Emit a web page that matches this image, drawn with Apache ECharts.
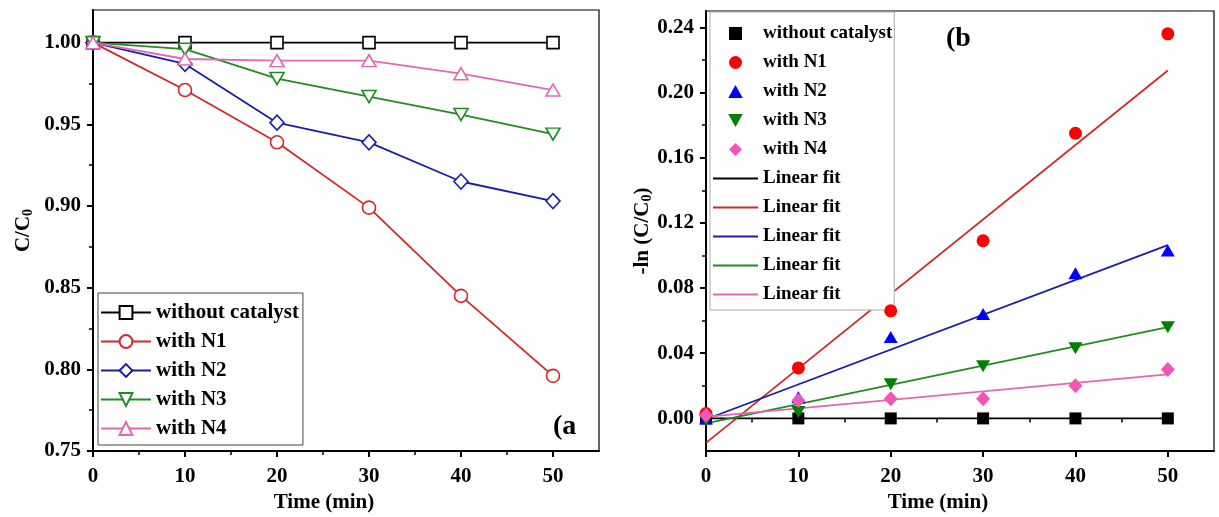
<!DOCTYPE html>
<html><head><meta charset="utf-8">
<script src="https://cdn.jsdelivr.net/npm/echarts@6/dist/echarts.min.js"></script>
<style>html,body{margin:0;padding:0;background:#fff}#c{width:1219px;height:517px}</style>
</head><body><div id="c"></div>
<script>
// ---- data ----
const times = [0, 10, 20, 30, 40, 50];
const namesA = ['without catalyst', 'with N1', 'with N2', 'with N3', 'with N4'];
const cA_none = [1.000, 1.000, 1.000, 1.000, 1.000, 1.000];
const cA_N1 = [1.000, 0.971, 0.939, 0.899, 0.845, 0.796];
const cA_N2 = [1.000, 0.987, 0.951, 0.939, 0.915, 0.903];
const cA_N3 = [1.000, 0.996, 0.978, 0.967, 0.956, 0.944];
const cA_N4 = [1.000, 0.990, 0.989, 0.989, 0.981, 0.971];
const lnB_none = [0, 0, 0, 0, 0, 0];
const lnB_N1 = [0.003, 0.031, 0.066, 0.109, 0.175, 0.236];
const lnB_N2 = [0.000, 0.013, 0.050, 0.064, 0.089, 0.103];
const lnB_N3 = [-0.001, 0.004, 0.021, 0.032, 0.043, 0.056];
const lnB_N4 = [0.002, 0.011, 0.012, 0.012, 0.020, 0.030];
const fitX = [0, 50];
const fit_none = [0, 0];
const fit_N1 = [-0.015, 0.2135];
const fit_N2 = [-0.0005, 0.1063];
const fit_N3 = [-0.003, 0.0560];
const fit_N4 = [0.001, 0.027];
const fitName = 'Linear fit';
const xTicks = [0, 10, 20, 30, 40, 50];
const xMinor = [5, 15, 25, 35, 45];
const yTicksA = [0.75, 0.80, 0.85, 0.90, 0.95, 1.00];
const yMinorA = [0.775, 0.825, 0.875, 0.925, 0.975];
const yTicksB = [0, 0.04, 0.08, 0.12, 0.16, 0.20, 0.24];
const yMinorB = [0.02, 0.06, 0.10, 0.14, 0.18, 0.22];

// ---- styles ----
const FF = '"Liberation Serif","Times New Roman",serif';
const colA = ['#000000', '#cc2a2a', '#1c1ca8', '#218c21', '#e068b6'];
const colMk = ['#000000', '#ff0000', '#0000ff', '#008000', '#f255b8'];
const colFit = ['#000000', '#cc2a2a', '#1c1ca8', '#218c21', '#e068b6'];
const txt = {fontFamily: FF, fontWeight: 'bold', color: '#000'};
const pair = (xs, ys) => xs.map((x, i) => [x, ys[i]]);

function mainX(g) {
  return {type: 'value', gridIndex: g, min: 0, max: 55, interval: 10,
    axisLine: {show: true, onZero: false, lineStyle: {color: '#000', width: 2}},
    axisTick: {show: true, length: 6, lineStyle: {color: '#000', width: 2}, customValues: xTicks},
    axisLabel: Object.assign({customValues: xTicks, margin: 15, fontSize: 21}, txt),
    splitLine: {show: false},
    name: 'Time (min)', nameLocation: 'middle', nameGap: 41, nameMoveOverlap: false,
    nameTextStyle: Object.assign({fontSize: 21, padding: [0, 44, 0, 0]}, txt)};
}
function minorX(g) {
  return {type: 'value', gridIndex: g, min: 0, max: 55, interval: 10, position: 'bottom',
    axisLine: {show: false}, axisLabel: {show: false}, splitLine: {show: false},
    axisTick: {show: true, length: 4, lineStyle: {color: '#000', width: 1.5}, customValues: xMinor}};
}
function mainY(g, min, max, interval, ticks, digits, name, gap, rich) {
  return {type: 'value', gridIndex: g, min: min, max: max, interval: interval,
    axisLine: {show: true, onZero: false, lineStyle: {color: '#000', width: 2}},
    axisTick: {show: true, length: 6, lineStyle: {color: '#000', width: 2}, customValues: ticks},
    axisLabel: Object.assign({customValues: ticks, margin: 12, fontSize: 21,
      formatter: v => Number(v).toFixed(digits)}, txt),
    splitLine: {show: false},
    name: name, nameLocation: 'middle', nameGap: gap, nameRotate: 90, nameMoveOverlap: false,
    nameTextStyle: Object.assign({fontSize: 21, rich: rich}, txt)};
}
function minorY(g, min, max, interval, ticks) {
  return {type: 'value', gridIndex: g, min: min, max: max, interval: interval, position: 'left',
    axisLine: {show: false}, axisLabel: {show: false}, splitLine: {show: false},
    axisTick: {show: true, length: 4, lineStyle: {color: '#000', width: 1.5}, customValues: ticks}};
}
const richName = {
  n: {fontFamily: FF, fontWeight: 'bold', fontSize: 21, color: '#000'},
  s: {fontFamily: FF, fontWeight: 'bold', fontSize: 14, color: '#000', padding: [9, 0, 0, 0]}
};

const downTri = 'path://M0,0 L10,0 L5,9 Z';
const symA = ['rect', 'circle', 'diamond', downTri, 'triangle'];
const sizeA = [12, 13, [14, 15], [14, 12], [14, 12]];
const dataA = [cA_none, cA_N1, cA_N2, cA_N3, cA_N4];
const seriesA = dataA.map((d, i) => ({
  type: 'line', name: namesA[i], xAxisIndex: 0, yAxisIndex: 0,
  data: pair(times, d), symbol: symA[i], symbolSize: sizeA[i], showAllSymbol: true,
  lineStyle: {color: colA[i], width: 1.8},
  itemStyle: {color: '#fff', borderColor: colA[i], borderWidth: 1.6},
  z: 3 + i
}));

const symB = ['rect', 'circle', 'triangle', downTri, 'diamond'];
const iconB = ['path://M0,0H9V9H0Z', 'path://M5,0A5,5 0 1,1 5,10A5,5 0 1,1 5,0Z',
  'path://M5,0L10,9L0,9Z', 'path://M0,0L10,0L5,9Z', 'path://M6,0L12,6L6,12L0,6Z'];
const sizeB = [12, 13, [14, 12], [14, 12], [14, 15]];
const dataB = [lnB_none, lnB_N1, lnB_N2, lnB_N3, lnB_N4];
const fitsB = [fit_none, fit_N1, fit_N2, fit_N3, fit_N4];
const seriesFit = fitsB.map((d, i) => ({
  type: 'line', name: 'b|' + fitName + '|' + i, xAxisIndex: 2, yAxisIndex: 2,
  data: pair(fitX, d), symbol: 'none', lineStyle: {color: colFit[i], width: 1.8},
  itemStyle: {color: colFit[i], opacity: 0}, z: 3
}));
const seriesB = dataB.map((d, i) => ({
  type: 'scatter', name: 'b|' + namesA[i], xAxisIndex: 2, yAxisIndex: 2,
  data: pair(times, d), symbol: symB[i], symbolSize: sizeB[i],
  itemStyle: {color: colMk[i], opacity: 1}, z: 5
}));

const legendBData = seriesB.map((s, i) => ({name: s.name, icon: iconB[i]}))
  .concat(seriesFit.map(s => ({name: s.name, itemStyle: {opacity: 0}})));

const option = {
  animation: false,
  backgroundColor: '#fff',
  grid: [
    {left: 93, top: 10, width: 506, height: 441, show: true, borderColor: '#000', borderWidth: 1.2, outerBoundsMode: 'none'},
    {left: 706, top: 11, width: 508, height: 440, show: true, borderColor: '#000', borderWidth: 1.2, outerBoundsMode: 'none'}
  ],
  xAxis: [mainX(0), minorX(0), mainX(1), minorX(1)],
  yAxis: [
    mainY(0, 0.75, 1.02, 0.05, yTicksA, 2, '{n|C/C}{s|0}', 58, richName),
    minorY(0, 0.75, 1.02, 0.05, yMinorA),
    mainY(1, -0.02, 0.25, 0.02, yTicksB, 2, '{n|-ln (C/C}{s|0}{n|)}', 52, richName),
    minorY(1, -0.02, 0.25, 0.02, yMinorB)
  ],
  title: [
    {text: '(a', left: 553, top: 413, padding: 0, textStyle: Object.assign({fontSize: 28}, txt)},
    {text: '(b', left: 946, top: 25, padding: 0, textStyle: Object.assign({fontSize: 28}, txt)}
  ],
  legend: [
    {data: namesA, orient: 'vertical', left: 98, top: 293, itemWidth: 50, itemHeight: 16, itemGap: 8,
     padding: [9, 4, 6, 2], borderColor: '#444', borderWidth: 1, backgroundColor: '#fff',
     selectedMode: false, textStyle: Object.assign({fontSize: 21}, txt)},
    {data: legendBData,
     orient: 'vertical', left: 710, top: 12, itemWidth: 45, itemHeight: 13, itemGap: 10,
     padding: [12, 2, 6, 2], borderColor: '#aaa', borderWidth: 1, backgroundColor: '#fff',
     selectedMode: false, symbolKeepAspect: true, formatter: n => n.split('|')[1],
     textStyle: Object.assign({fontSize: 19}, txt)}
  ],
  series: seriesA.concat(seriesFit, seriesB)
};
const chart = echarts.init(document.getElementById('c'), null, {renderer: 'canvas'});
chart.setOption(option);
</script></body></html>
